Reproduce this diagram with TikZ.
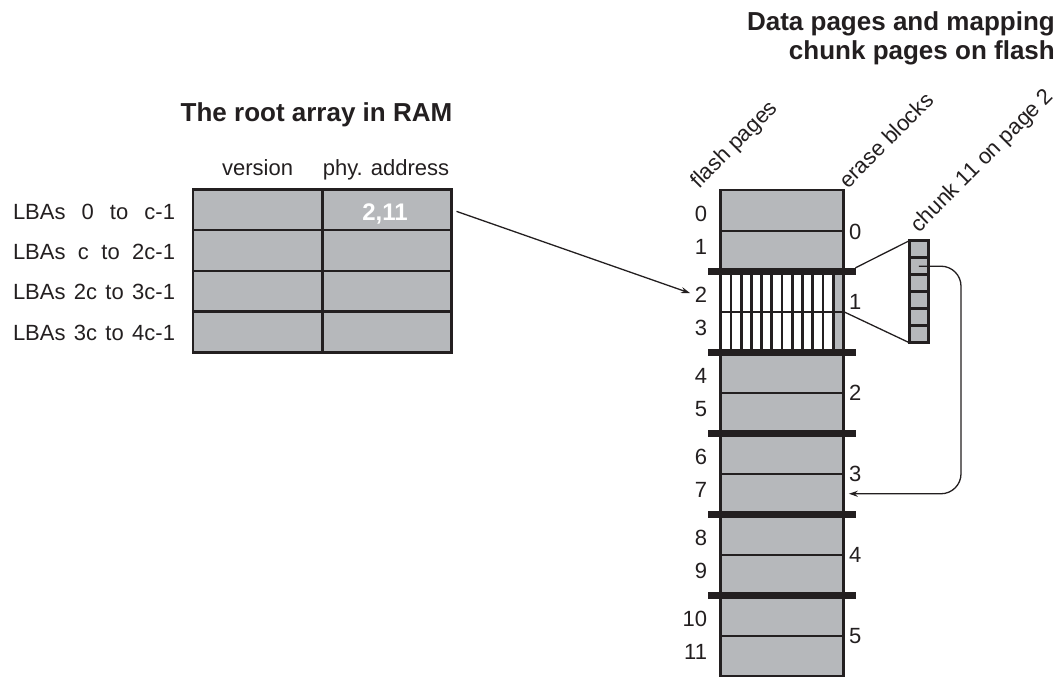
\documentclass[tikz,border=0pt]{standalone}
\usepackage{fontspec}
\setmainfont{Liberation Sans}
\usetikzlibrary{arrows.meta}
\definecolor{cellgray}{RGB}{182,184,187}
\definecolor{ink}{RGB}{35,31,32}
\begin{document}
\begin{tikzpicture}[x=1pt,y=-1pt,
  lbl/.style={font=\fontsize{22}{26}\selectfont, text=ink, inner sep=0pt, outer sep=0pt},
  ttl/.style={font=\fontsize{26}{29}\selectfont\bfseries, text=ink, inner sep=0pt},
  cell/.style={draw=ink, line width=2.7pt, fill=cellgray, minimum width=129.5pt, minimum height=40.8pt, inner sep=0pt, outer sep=0pt},
  page/.style={draw=ink, line width=2pt, fill=cellgray, minimum width=122.6pt, minimum height=40.5pt, inner sep=0pt, outer sep=0pt},
  chunk/.style={draw=ink, line width=2.6pt, fill=cellgray, minimum width=19pt, minimum height=17pt, inner sep=0pt, outer sep=0pt},
  conn/.style={draw=ink, line width=1.3pt},
  bar/.style={draw=ink, line width=7pt},
  tip/.style={-{Stealth[length=9pt,width=6pt]}}
]
\useasboundingbox (0,0) rectangle (1060,677);

% ---- titles
\node[ttl, anchor=base] (t1) at (316.5,121.7) {The root array in RAM};
\node[ttl, anchor=base east] (t2a) at (1055,30.7) {Data pages and mapping};
\node[ttl, anchor=base east] (t2b) at (1055,59.3) {chunk pages on flash};

% ---- root array table
\node[lbl, anchor=base] (hv) at (257.6,175.3) {version};
\node[lbl, anchor=base] (hp) at (386,175.3) {phy. address};
\foreach \r in {1,...,4}{
  \node[cell] (v\r) at (257.6,{209.7+40.8*(\r-1)}) {};
  \node[cell] (p\r) at (387,{209.7+40.8*(\r-1)}) {};
}
\node[lbl, anchor=base east] (lb1) at (175,219.0) {\makebox[162pt][s]{LBAs 0 to c-1}};
\node[lbl, anchor=base east] (lb2) at (175,259.5) {\makebox[162pt][s]{LBAs c to 2c-1}};
\node[lbl, anchor=base east] (lb3) at (175,299.8) {\makebox[162pt][s]{LBAs 2c to 3c-1}};
\node[lbl, anchor=base east] (lb4) at (175,340.0) {\makebox[162pt][s]{LBAs 3c to 4c-1}};
\node[font=\fontsize{24}{28}\selectfont\bfseries, text=white, inner sep=0pt, anchor=base] (addr) at (385,220) {2,11};

% ---- flash pages column
\foreach \k in {0,...,11}{
  \node[page] (pg\k) at (782,{210.25+40.5*\k}) {};
}
% chunk stripes in pages 2 and 3
\fill[white] (720.7,271) rectangle (833.1,352);
\foreach \k in {1,...,11}{
  \draw[ink, line width=2.8pt] ({720.7+10.22*\k},271) -- ({720.7+10.22*\k},352);
}
\draw[ink, line width=2pt] (pg2.south west) -- (pg2.south east);
\draw[ink, line width=2.7pt] (pg0.north west) rectangle (pg11.south east);
% erase block bars
\foreach \k in {1,...,5}{
  \draw[bar] (708,{190+81*\k}) -- (855.7,{190+81*\k});
}

% page numbers
\foreach \k in {0,...,11}{
  \pgfmathsetmacro{\off}{mod(\k,2)==0 ? 3.5 : -3.5}
  \node[lbl, anchor=east] (pl\k) at (707,{210.25+40.5*\k+\off}) {\k};
}
% erase block numbers
\node[lbl, anchor=west] (el0) at (849,231.5) {0};
\node[lbl, anchor=west] (el1) at (849,302) {1};
\node[lbl, anchor=west] (el2) at (849,393) {2};
\node[lbl, anchor=west] (el3) at (849,473.5) {3};
\node[lbl, anchor=west] (el4) at (849,554.5) {4};
\node[lbl, anchor=west] (el5) at (849,636) {5};

% rotated headings
\node[lbl, anchor=base west, rotate=45] (hfp) at (699,189) {flash pages};
\node[lbl, anchor=base west, rotate=45] (heb) at (848,189) {erase blocks};
\node[lbl, anchor=base west, rotate=45] (hck) at (919,233) {chunk 11 on page 2};

% ---- chunk box
\foreach \k in {1,...,6}{
  \node[chunk] (cc\k) at (918.8,{249.2+17*(\k-1)}) {};
}
\coordinate (bar1e) at (855.5,267.8);
\draw[conn] (bar1e) -- (cc1.north west);
\draw[conn] (pg2.south east) -- (cc6.south west);

% ---- connectors
\draw[conn, tip, shorten <=5pt, shorten >=5pt] (p1.east) -- (pl2.west);
\coordinate (bend) at (961,380);
\draw[conn, tip, rounded corners=20pt, shorten >=5.5pt] (cc2.center) -| (bend) |- (pg7.east);
\end{tikzpicture}
\end{document}
